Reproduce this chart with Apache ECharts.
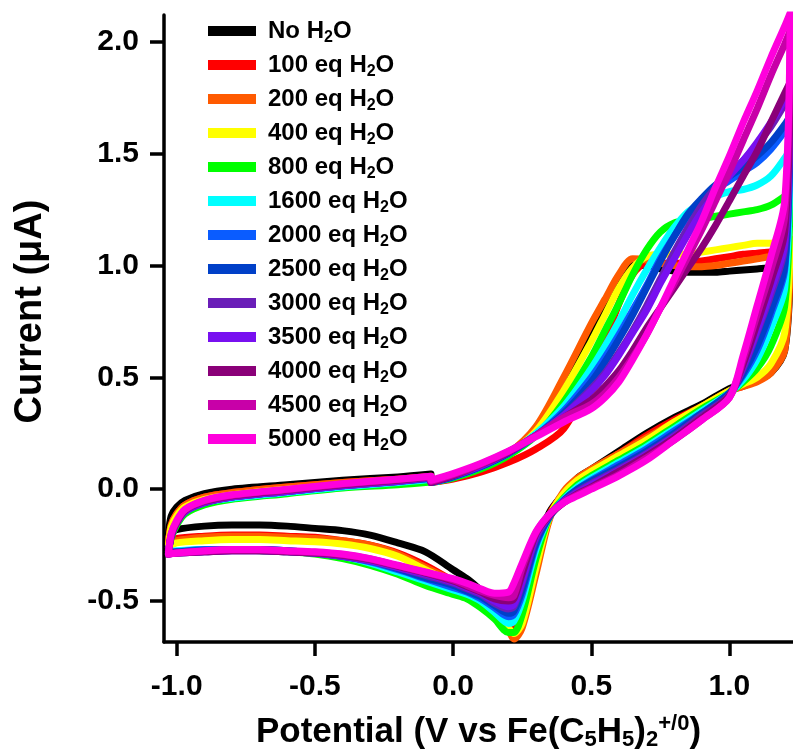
<!DOCTYPE html>
<html><head><meta charset="utf-8">
<script src="https://cdn.jsdelivr.net/npm/echarts@6/dist/echarts.min.js"></script>
<style>html,body{margin:0;padding:0;background:#fff}#c{width:793px;height:752px}</style>
</head><body><div id="c"></div>
<script>
// Potential program (V vs Fc+/0): start -> +1.22 -> -1.03 -> back to start
const potential = [
  -0.08, 0.0, 0.1, 0.2, 0.3, 0.4, 0.5, 0.55, 0.6, 0.65, 0.7, 0.75, 0.8, 0.85, 0.9, 0.95, 1.0, 1.05, 1.1, 1.15, 1.2, 1.22,
  1.2, 1.15, 1.1, 1.05, 1.0, 0.9, 0.8, 0.7, 0.6, 0.5, 0.45, 0.4, 0.35, 0.3, 0.25, 0.22, 0.2, 0.15, 0.1, 0.05, 0.0, -0.1, -0.2, -0.3, -0.4, -0.5, -0.6, -0.7, -0.8, -0.9, -1.0, -1.03,
  -1.02, -1.0, -0.97, -0.9, -0.8, -0.6, -0.4, -0.2, -0.08
];

const seriesNames = ['No H2O','100 eq H2O','200 eq H2O','400 eq H2O','800 eq H2O','1600 eq H2O','2000 eq H2O','2500 eq H2O','3000 eq H2O','3500 eq H2O','4000 eq H2O','4500 eq H2O','5000 eq H2O'];
const seriesColors = ['#000000','#ff0000','#ff5a00','#ffff00','#00ff00','#00ffff','#0a5cff','#0040c8','#6a1eb8','#7810f0','#8a0078','#c800a8','#ff00dd'];

const currentNoH2O = [
  0.035, 0.06, 0.10, 0.16, 0.26, 0.44, 0.70, 0.82, 0.94, 1.00, 1.00, 0.985, 0.975, 0.97, 0.97, 0.97, 0.975, 0.98, 0.985, 0.99, 0.99, 0.99,
  0.62, 0.52, 0.49, 0.47, 0.45, 0.38, 0.32, 0.25, 0.17, 0.09, 0.05, -0.02, -0.10, -0.25, -0.47, -0.55, -0.56, -0.50, -0.45, -0.40, -0.36, -0.28, -0.24, -0.205, -0.185, -0.175, -0.165, -0.16, -0.16, -0.165, -0.18, -0.20,
  -0.12, -0.08, -0.05, -0.02, 0.0, 0.02, 0.04, 0.055, 0.068
];
const current100 = [
  0.03, 0.045, 0.076, 0.12, 0.18, 0.27, 0.50, 0.66, 0.83, 0.96, 1.01, 1.01, 1.01, 1.01, 1.02, 1.03, 1.04, 1.05, 1.055, 1.06, 1.06, 1.06,
  0.66, 0.54, 0.49, 0.46, 0.44, 0.37, 0.31, 0.24, 0.16, 0.085, 0.045, -0.02, -0.11, -0.33, -0.57, -0.62, -0.60, -0.54, -0.49, -0.45, -0.41, -0.34, -0.285, -0.25, -0.23, -0.215, -0.21, -0.205, -0.205, -0.21, -0.22, -0.24,
  -0.16, -0.11, -0.07, -0.035, -0.015, 0.01, 0.03, 0.045, 0.055
];
const current200 = [
  0.03, 0.055, 0.095, 0.16, 0.28, 0.50, 0.74, 0.85, 0.96, 1.03, 1.025, 1.01, 1.0, 0.995, 0.995, 1.0, 1.01, 1.02, 1.03, 1.04, 1.045, 1.05,
  0.62, 0.52, 0.48, 0.46, 0.44, 0.37, 0.30, 0.23, 0.16, 0.09, 0.05, -0.01, -0.13, -0.38, -0.62, -0.67, -0.63, -0.56, -0.50, -0.45, -0.41, -0.35, -0.29, -0.25, -0.23, -0.22, -0.215, -0.21, -0.21, -0.215, -0.23, -0.25,
  -0.16, -0.11, -0.07, -0.035, -0.015, 0.01, 0.03, 0.045, 0.058
];
const current400 = [
  0.03, 0.055, 0.095, 0.155, 0.26, 0.44, 0.66, 0.78, 0.90, 0.99, 1.04, 1.05, 1.05, 1.05, 1.06, 1.07, 1.08, 1.09, 1.10, 1.10, 1.11, 1.12,
  0.70, 0.56, 0.50, 0.47, 0.44, 0.37, 0.30, 0.22, 0.15, 0.08, 0.04, -0.02, -0.12, -0.35, -0.60, -0.645, -0.62, -0.55, -0.50, -0.46, -0.42, -0.36, -0.30, -0.265, -0.245, -0.235, -0.23, -0.225, -0.225, -0.23, -0.24, -0.26,
  -0.17, -0.12, -0.08, -0.045, -0.025, 0.0, 0.02, 0.04, 0.05
];
const current800 = [
  0.03, 0.05, 0.09, 0.15, 0.24, 0.39, 0.59, 0.71, 0.83, 0.96, 1.07, 1.15, 1.19, 1.20, 1.21, 1.22, 1.23, 1.24, 1.25, 1.27, 1.31, 1.33,
  0.82, 0.64, 0.54, 0.48, 0.43, 0.36, 0.28, 0.20, 0.13, 0.06, 0.02, -0.04, -0.12, -0.31, -0.56, -0.64, -0.64, -0.58, -0.53, -0.49, -0.47, -0.43, -0.38, -0.34, -0.31, -0.29, -0.28, -0.275, -0.27, -0.27, -0.28, -0.28,
  -0.22, -0.16, -0.11, -0.07, -0.045, -0.02, 0.005, 0.02, 0.032
];
const current1600 = [
  0.03, 0.055, 0.10, 0.16, 0.25, 0.37, 0.54, 0.64, 0.75, 0.87, 0.98, 1.08, 1.17, 1.24, 1.28, 1.31, 1.33, 1.34, 1.36, 1.40, 1.48, 1.52,
  0.90, 0.72, 0.58, 0.49, 0.43, 0.35, 0.27, 0.19, 0.12, 0.05, 0.01, -0.045, -0.12, -0.27, -0.50, -0.59, -0.60, -0.55, -0.50, -0.47, -0.45, -0.41, -0.37, -0.33, -0.30, -0.285, -0.275, -0.27, -0.27, -0.27, -0.275, -0.28,
  -0.21, -0.15, -0.10, -0.06, -0.04, -0.015, 0.01, 0.03, 0.045
];
const current2000 = [
  0.03, 0.055, 0.10, 0.16, 0.24, 0.35, 0.50, 0.59, 0.69, 0.80, 0.91, 1.03, 1.13, 1.22, 1.29, 1.34, 1.38, 1.42, 1.46, 1.52, 1.60, 1.64,
  0.98, 0.78, 0.62, 0.51, 0.43, 0.34, 0.26, 0.18, 0.11, 0.04, 0.0, -0.05, -0.12, -0.25, -0.47, -0.56, -0.57, -0.53, -0.49, -0.46, -0.44, -0.40, -0.36, -0.325, -0.30, -0.285, -0.275, -0.27, -0.27, -0.27, -0.28, -0.285,
  -0.21, -0.15, -0.10, -0.06, -0.035, -0.01, 0.015, 0.035, 0.048
];
const current2500 = [
  0.03, 0.055, 0.10, 0.16, 0.24, 0.34, 0.48, 0.57, 0.67, 0.78, 0.90, 1.02, 1.13, 1.23, 1.30, 1.36, 1.40, 1.44, 1.49, 1.55, 1.63, 1.67,
  1.00, 0.80, 0.64, 0.52, 0.43, 0.34, 0.25, 0.17, 0.10, 0.035, 0.0, -0.05, -0.12, -0.24, -0.45, -0.545, -0.555, -0.52, -0.48, -0.455, -0.43, -0.395, -0.355, -0.32, -0.30, -0.285, -0.275, -0.27, -0.27, -0.275, -0.28, -0.285,
  -0.21, -0.15, -0.10, -0.06, -0.035, -0.01, 0.015, 0.035, 0.05
];
const current3000 = [
  0.03, 0.06, 0.105, 0.165, 0.24, 0.33, 0.45, 0.52, 0.61, 0.71, 0.82, 0.94, 1.06, 1.17, 1.27, 1.35, 1.41, 1.47, 1.54, 1.62, 1.72, 1.76,
  1.08, 0.87, 0.70, 0.54, 0.42, 0.33, 0.24, 0.16, 0.09, 0.025, -0.01, -0.055, -0.115, -0.22, -0.42, -0.525, -0.535, -0.51, -0.47, -0.445, -0.42, -0.385, -0.35, -0.32, -0.30, -0.285, -0.28, -0.275, -0.275, -0.28, -0.285, -0.29,
  -0.21, -0.15, -0.10, -0.06, -0.035, -0.01, 0.015, 0.035, 0.052
];
const current3500 = [
  0.03, 0.06, 0.105, 0.165, 0.24, 0.33, 0.44, 0.51, 0.60, 0.70, 0.80, 0.92, 1.03, 1.14, 1.24, 1.32, 1.40, 1.47, 1.55, 1.64, 1.74, 1.78,
  1.10, 0.89, 0.71, 0.55, 0.42, 0.32, 0.235, 0.155, 0.085, 0.02, -0.015, -0.055, -0.115, -0.21, -0.41, -0.515, -0.525, -0.50, -0.465, -0.44, -0.415, -0.38, -0.35, -0.32, -0.30, -0.285, -0.28, -0.275, -0.275, -0.28, -0.285, -0.29,
  -0.21, -0.15, -0.10, -0.06, -0.035, -0.01, 0.015, 0.035, 0.054
];
const current4000 = [
  0.03, 0.06, 0.11, 0.165, 0.24, 0.32, 0.40, 0.46, 0.53, 0.62, 0.72, 0.81, 0.90, 0.99, 1.08, 1.18, 1.29, 1.40, 1.51, 1.64, 1.77, 1.82,
  1.15, 0.93, 0.74, 0.56, 0.42, 0.32, 0.23, 0.15, 0.08, 0.01, -0.02, -0.06, -0.115, -0.20, -0.38, -0.49, -0.50, -0.49, -0.46, -0.435, -0.41, -0.375, -0.345, -0.315, -0.295, -0.285, -0.28, -0.275, -0.275, -0.28, -0.285, -0.29,
  -0.21, -0.15, -0.095, -0.055, -0.03, -0.005, 0.02, 0.04, 0.056
];
const current4500 = [
  0.035, 0.065, 0.112, 0.168, 0.24, 0.32, 0.38, 0.43, 0.50, 0.59, 0.69, 0.81, 0.92, 1.04, 1.16, 1.29, 1.42, 1.56, 1.70, 1.85, 1.99, 2.05,
  1.22, 0.98, 0.78, 0.58, 0.41, 0.31, 0.22, 0.14, 0.065, 0.005, -0.025, -0.06, -0.11, -0.195, -0.35, -0.475, -0.485, -0.475, -0.455, -0.43, -0.405, -0.372, -0.342, -0.312, -0.292, -0.282, -0.277, -0.272, -0.272, -0.277, -0.285, -0.29,
  -0.20, -0.145, -0.092, -0.052, -0.027, -0.002, 0.023, 0.043, 0.057
];
const current5000 = [
  0.04, 0.07, 0.115, 0.17, 0.235, 0.30, 0.36, 0.41, 0.48, 0.58, 0.69, 0.81, 0.94, 1.07, 1.20, 1.35, 1.49, 1.64, 1.78, 1.93, 2.07, 2.13,
  1.29, 1.04, 0.82, 0.60, 0.41, 0.31, 0.22, 0.13, 0.06, 0.0, -0.03, -0.06, -0.11, -0.19, -0.33, -0.42, -0.46, -0.465, -0.445, -0.42, -0.40, -0.37, -0.34, -0.31, -0.29, -0.28, -0.275, -0.27, -0.27, -0.275, -0.285, -0.29,
  -0.20, -0.14, -0.09, -0.05, -0.025, 0.0, 0.025, 0.045, 0.058
];

const allCurrents = [currentNoH2O, current100, current200, current400, current800, current1600, current2000, current2500, current3000, current3500, current4000, current4500, current5000];

const xTicks = [-1.0, -0.5, 0.0, 0.5, 1.0];
const yTicks = [-0.5, 0.0, 0.5, 1.0, 1.5, 2.0];

const FONT = '"Liberation Sans", Arial, sans-serif';

function legendLabel(name) {
  const i = name.indexOf('H2O');
  return '{n|' + name.slice(0, i) + 'H}{s|2}{n|O}';
}

const chart = echarts.init(document.getElementById('c'), null, {renderer: 'canvas'});
chart.setOption({
  animation: false,
  backgroundColor: '#ffffff',
  grid: {left: 164, right: 0, top: 15, bottom: 110, containLabel: false, outerBoundsMode: 'none'},
  legend: {
    orient: 'vertical', left: 203, top: 14, padding: 5,
    icon: 'rect', itemWidth: 48, itemHeight: 10, itemGap: 7,
    data: seriesNames,
    formatter: legendLabel,
    textStyle: {
      color: '#000', fontFamily: FONT, fontWeight: 'bold', fontSize: 24,
      padding: [0, 0, 0, 7],
      rich: {
        n: {fontFamily: FONT, fontWeight: 'bold', fontSize: 24, lineHeight: 30, color: '#000'},
        s: {fontFamily: FONT, fontWeight: 'bold', fontSize: 16, lineHeight: 12, verticalAlign: 'bottom', color: '#000'}
      }
    }
  },
  xAxis: {
    type: 'value', min: -1.046, max: 1.23,
    axisLine: {show: true, onZero: false, lineStyle: {color: '#000', width: 3.5}},
    axisTick: {show: true, inside: false, length: 14, lineStyle: {color: '#000', width: 3.5}, customValues: xTicks},
    axisLabel: {show: true, customValues: xTicks, margin: 30, color: '#000', fontFamily: FONT, fontWeight: 'bold', fontSize: 30,
      formatter: v => v.toFixed(1)},
    splitLine: {show: false},
    name: '{n|Potential (V vs Fe(C}{s|5}{n|H}{s|5}{n|)}{s|2}{p|+/0}{n|)}',
    nameLocation: 'middle', nameGap: 71,
    nameTextStyle: {
      color: '#000', fontFamily: FONT, fontWeight: 'bold', fontSize: 35,
      rich: {
        n: {fontFamily: FONT, fontWeight: 'bold', fontSize: 35, lineHeight: 38, color: '#000'},
        s: {fontFamily: FONT, fontWeight: 'bold', fontSize: 22, lineHeight: 18, verticalAlign: 'bottom', color: '#000'},
        p: {fontFamily: FONT, fontWeight: 'bold', fontSize: 22, lineHeight: 18, verticalAlign: 'top', color: '#000'}
      }
    }
  },
  yAxis: {
    type: 'value', min: -0.683, max: 2.12,
    axisLine: {show: true, onZero: false, lineStyle: {color: '#000', width: 3.5}},
    axisTick: {show: true, inside: false, length: 14, lineStyle: {color: '#000', width: 3.5}, customValues: yTicks},
    axisLabel: {show: true, customValues: yTicks, margin: 25, color: '#000', fontFamily: FONT, fontWeight: 'bold', fontSize: 30,
      formatter: v => v.toFixed(1)},
    splitLine: {show: false},
    name: 'Current (μA)', nameLocation: 'middle', nameGap: 114, nameRotate: 90,
    nameTextStyle: {color: '#000', fontFamily: FONT, fontWeight: 'bold', fontSize: 38, padding: [0, 0, 0, 34]}
  },
  series: seriesNames.map((name, k) => ({
    name: name,
    type: 'line',
    data: potential.map((e, i) => [e, allCurrents[k][i]]),
    showSymbol: false,
    symbol: 'none',
    smooth: 0.3,
    color: seriesColors[k],
    lineStyle: {color: seriesColors[k], width: 7, cap: 'round', join: 'round'},
    z: 2 + k
  }))
});
</script></body></html>
